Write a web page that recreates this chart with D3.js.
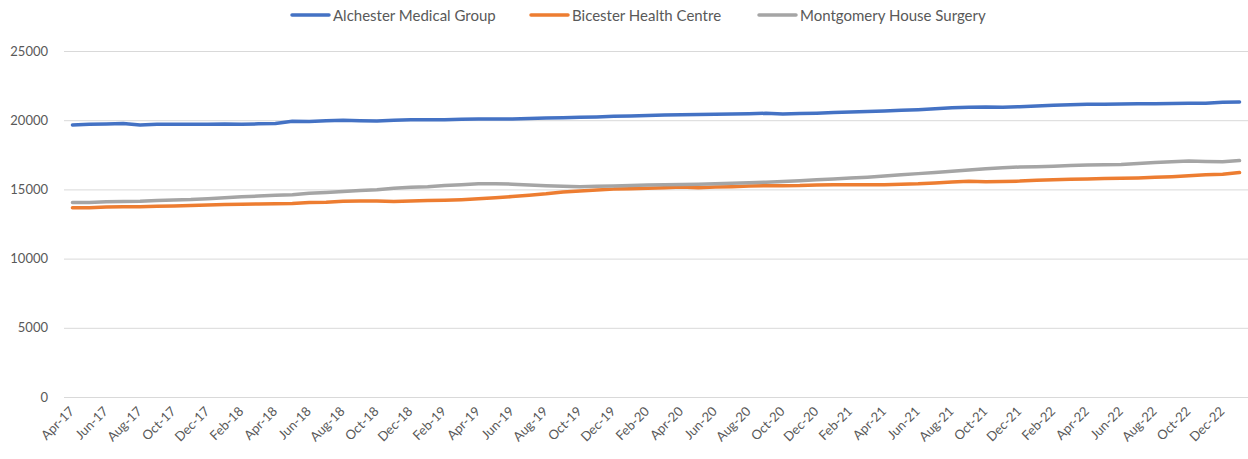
<!DOCTYPE html>
<html>
<head>
<meta charset="utf-8">
<script src="https://cdn.jsdelivr.net/npm/d3@7"></script>
<style>
  body { margin: 0; background: #fff; }
  text { font-family: Lato, "Open Sans", "Liberation Sans", sans-serif; fill: #595959; }
</style>
</head>
<body>
<div id="canvas"></div>
<script>
"use strict";

/* Data */
let months = [
  "Apr-17","May-17","Jun-17","Jul-17","Aug-17","Sep-17","Oct-17","Nov-17","Dec-17",
  "Jan-18","Feb-18","Mar-18","Apr-18","May-18","Jun-18","Jul-18","Aug-18","Sep-18","Oct-18","Nov-18","Dec-18",
  "Jan-19","Feb-19","Mar-19","Apr-19","May-19","Jun-19","Jul-19","Aug-19","Sep-19","Oct-19","Nov-19","Dec-19",
  "Jan-20","Feb-20","Mar-20","Apr-20","May-20","Jun-20","Jul-20","Aug-20","Sep-20","Oct-20","Nov-20","Dec-20",
  "Jan-21","Feb-21","Mar-21","Apr-21","May-21","Jun-21","Jul-21","Aug-21","Sep-21","Oct-21","Nov-21","Dec-21",
  "Jan-22","Feb-22","Mar-22","Apr-22","May-22","Jun-22","Jul-22","Aug-22","Sep-22","Oct-22","Nov-22","Dec-22",
  "Jan-23"
];

let alchester = [
  19650, 19700, 19730, 19760, 19650, 19700, 19700, 19700, 19710,
  19720, 19700, 19740, 19760, 19920, 19900, 19960, 19990, 19960, 19950, 20000, 20030,
  20040, 20040, 20060, 20080, 20090, 20090, 20120, 20150, 20180, 20210, 20240, 20280,
  20310, 20340, 20370, 20390, 20410, 20430, 20450, 20470, 20500, 20450, 20480, 20510,
  20550, 20590, 20630, 20670, 20710, 20760, 20820, 20900, 20940, 20960, 20940, 20980,
  21030, 21080, 21120, 21150, 21160, 21170, 21180, 21190, 21210, 21220, 21220, 21300,
  21310
];

let bicester = [
  13680, 13680, 13720, 13750, 13750, 13780, 13800, 13830, 13870,
  13900, 13920, 13950, 13970, 13980, 14060, 14080, 14140, 14170, 14170, 14130, 14170,
  14200, 14220, 14260, 14320, 14400, 14480, 14570, 14680, 14820, 14880, 14950, 15020,
  15050, 15080, 15120, 15170, 15120, 15170, 15200, 15250, 15270, 15270, 15280, 15320,
  15340, 15340, 15330, 15340, 15380, 15400, 15460, 15530, 15580, 15550, 15570, 15600,
  15660, 15700, 15730, 15760, 15780, 15800, 15830, 15870, 15920, 15990, 16050, 16100,
  16220
];

let montgomery = [
  14050, 14050, 14100, 14130, 14150, 14200, 14240, 14270, 14330,
  14400, 14470, 14520, 14580, 14620, 14720, 14780, 14840, 14920, 14980, 15080, 15150,
  15200, 15290, 15340, 15400, 15400, 15380, 15320, 15270, 15220, 15190, 15220, 15250,
  15290, 15320, 15330, 15360, 15380, 15400, 15440, 15480, 15520, 15570, 15630, 15700,
  15760, 15820, 15880, 15960, 16060, 16140, 16220, 16320, 16400, 16490, 16560, 16620,
  16640, 16670, 16720, 16760, 16780, 16800, 16880, 16950, 17000, 17050, 17020, 17000,
  17080
];

let seriesNames = ["Alchester Medical Group", "Bicester Health Centre", "Montgomery House Surgery"];
let seriesColors = ["#4472C4", "#ED7D31", "#A5A5A5"];
let yTicks = [0, 5000, 10000, 15000, 20000, 25000];

let series = [alchester, bicester, montgomery].map(function (vals, i) {
  return { name: seriesNames[i], color: seriesColors[i], values: vals };
});

/* SVG setup */
let svgWidth = 1248;
let svgHeight = 459;
let plotLeft = 64;
let plotRight = 1248;
let plotTop = 51;
let plotBottom = 397;

let svg = d3.select("#canvas")
  .append("svg")
  .attr("width", svgWidth)
  .attr("height", svgHeight);

/* Scales */
let xScale = d3.scalePoint()
  .domain(months)
  .range([plotLeft, plotRight])
  .padding(0.5);

let yScale = d3.scaleLinear()
  .domain([0, 25000])
  .range([plotBottom, plotTop]);

/* Gridlines + y labels */
let yAxis = svg.append("g")
  .attr("transform", "translate(" + plotLeft + ",0)")
  .call(d3.axisLeft(yScale)
    .tickValues(yTicks)
    .tickSize(-(plotRight - plotLeft))
    .tickPadding(16)
    .tickFormat(d3.format("d")));

yAxis.select(".domain").remove();
yAxis.selectAll(".tick line")
  .attr("stroke", "#d9d9d9")
  .attr("stroke-width", 1);
yAxis.selectAll(".tick text")
  .style("font-size", "13px")
  .style("fill", "#595959");

/* X labels, every second month */
let xAxis = svg.append("g")
  .attr("transform", "translate(0," + plotBottom + ")")
  .call(d3.axisBottom(xScale)
    .tickValues(months.filter(function (d, i) { return i % 2 === 0; }))
    .tickSize(0));

xAxis.select(".domain").remove();
xAxis.selectAll(".tick text")
  .attr("text-anchor", "end")
  .attr("dy", 0)
  .attr("transform", "translate(0,13) rotate(-45)")
  .style("font-size", "13px")
  .style("fill", "#595959");

/* Lines */
let line = d3.line()
  .x(function (d, i) { return xScale(months[i]); })
  .y(function (d) { return yScale(d); });

svg.selectAll(".series")
  .data(series)
  .enter()
  .append("path")
  .attr("class", "series")
  .attr("d", function (s) { return line(s.values); })
  .attr("fill", "none")
  .attr("stroke", function (s) { return s.color; })
  .attr("stroke-width", 3.5)
  .attr("stroke-linejoin", "round")
  .attr("stroke-linecap", "round");

/* Legend */
let legendX = [292, 531, 759];
let legend = svg.selectAll(".legend")
  .data(series)
  .enter()
  .append("g")
  .attr("class", "legend")
  .attr("transform", function (s, i) { return "translate(" + legendX[i] + ",15)"; });

legend.append("line")
  .attr("x1", 0)
  .attr("x2", 37)
  .attr("y1", 0)
  .attr("y2", 0)
  .attr("stroke", function (s) { return s.color; })
  .attr("stroke-width", 3.5)
  .attr("stroke-linecap", "round");

legend.append("text")
  .attr("x", 41)
  .attr("y", 5.5)
  .style("font-size", "15px")
  .text(function (s) { return s.name; });
</script>
</body>
</html>
